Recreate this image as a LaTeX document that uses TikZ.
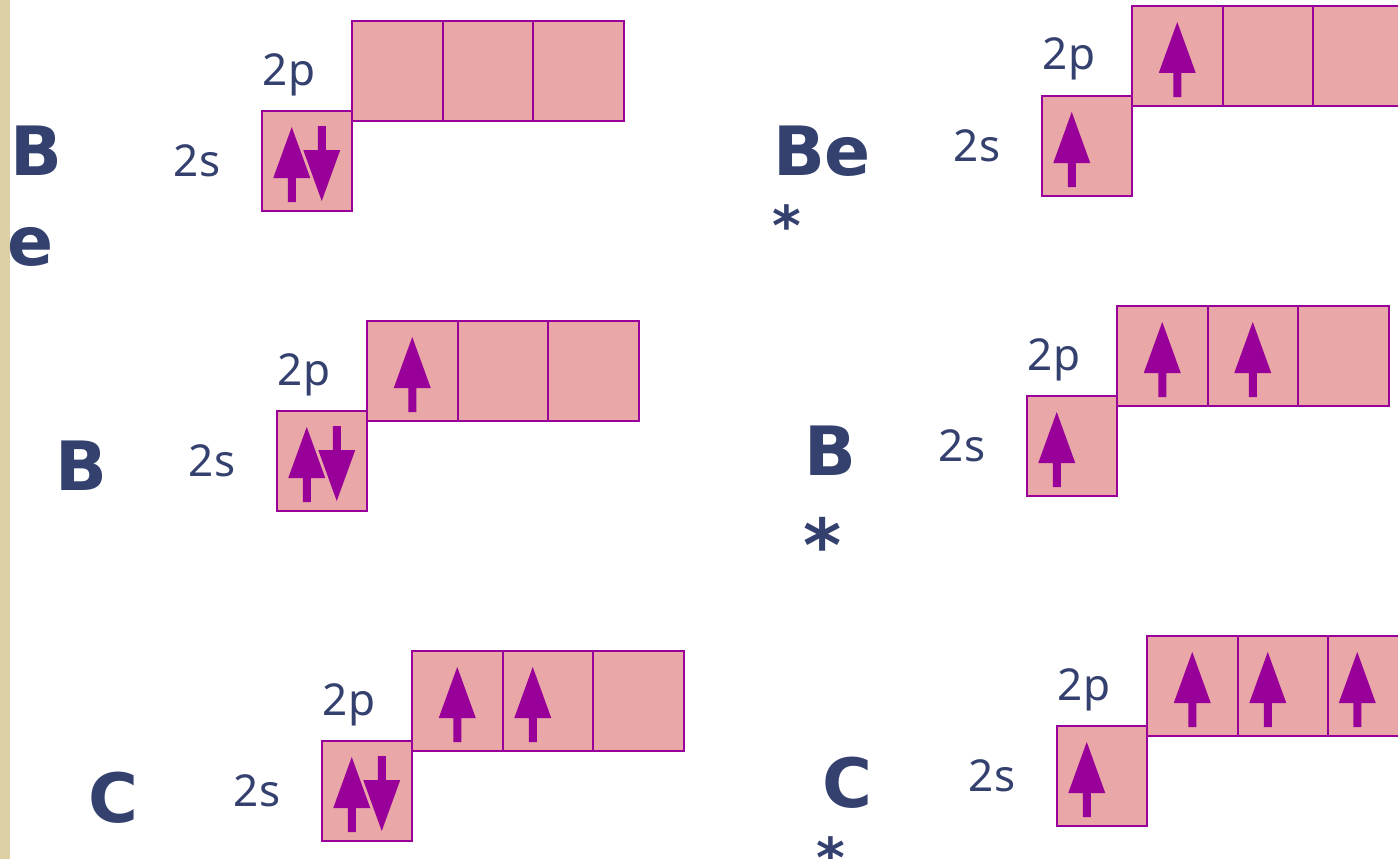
\documentclass[tikz,border=0pt]{standalone}
\usepackage{fontspec}
\setmainfont{DejaVu Sans}
\newfontfamily\lblfont{Noto Sans}
\usetikzlibrary{calc}
\definecolor{txtc}{HTML}{34416E}
\definecolor{boxfill}{HTML}{E9A8A7}
\definecolor{boxline}{HTML}{990099}
\definecolor{arrc}{HTML}{990099}
\definecolor{stripec}{HTML}{DDD0A4}
\tikzset{
  orb/.style={draw=boxline, fill=boxfill, line width=2pt, minimum width=90.5pt, minimum height=100pt, inner sep=0pt, outer sep=0pt},
  lbl/.style={text=txtc, font=\lblfont\fontsize{44}{48}\selectfont, inner sep=0pt, anchor=base},
  elem/.style={text=txtc, font=\bfseries\fontsize{68}{68}\selectfont, inner sep=0pt, anchor=base},
  star/.style={text=txtc, font=\bfseries\fontsize{#1}{#1}\selectfont, inner sep=0pt, anchor=base},
  upa/.pic={\fill[arrc] (0,0) -- (18.5,51) -- (4,51) -- (4,75) -- (-4,75) -- (-4,51) -- (-18.5,51) -- cycle;},
  dna/.pic={\fill[arrc] (-4,0) -- (4,0) -- (4,24) -- (18.5,24) -- (0,75) -- (-18.5,24) -- (-4,24) -- cycle;}
}
\newcommand\orbitals[3]{%
  \node[orb] (#1s) at (#2+45,#3+50) {};
  \node[orb] (#1pa) at (#2+135.5,#3-40) {};
  \node[orb] (#1pb) at (#2+226,#3-40) {};
  \node[orb] (#1pc) at (#2+316.5,#3-40) {};
  \node[lbl] (#1ls) at (#2-65,#3+65) {2s};
  \node[lbl] (#1lp) at (#2+27,#3-26) {2p};
}
\begin{document}
\begin{tikzpicture}[x=1pt,y=-1pt]
\useasboundingbox (0,0) rectangle (1398,859);
\fill[stripec] (0,0) rectangle (10,859);

% Be
\orbitals{be}{262}{111}
\pic at ($(bes.north west)+(30,16)$) {upa};
\pic at ($(bes.north west)+(60,15)$) {dna};
\node[elem] (beB) at (36,175) {B};
\node[elem] (beE) at (31,265) {e};

% Be*
\orbitals{bex}{1042}{96}
\pic at ($(bexs.north west)+(30,16)$) {upa};
\pic at ($(bexpa.north west)+(45,16)$) {upa};
\node[elem] (bexL) at (822,175) {Be};
\node[star=55] (bexS) at (787,245) {*};

% B
\orbitals{b}{277}{411}
\pic at ($(bs.north west)+(30,16)$) {upa};
\pic at ($(bs.north west)+(60,15)$) {dna};
\pic at ($(bpa.north west)+(45,16)$) {upa};
\node[elem] (bL) at (81,490) {B};

% B*
\orbitals{bx}{1027}{396}
\pic at ($(bxs.north west)+(30,16)$) {upa};
\pic at ($(bxpa.north west)+(45,16)$) {upa};
\pic at ($(bxpb.north west)+(45,16)$) {upa};
\node[elem] (bxL) at (830,475) {B};
\node[star=73] (bxS) at (823,571) {*};

% C
\orbitals{c}{322}{741}
\pic at ($(cs.north west)+(30,16)$) {upa};
\pic at ($(cs.north west)+(60,15)$) {dna};
\pic at ($(cpa.north west)+(45,16)$) {upa};
\pic at ($(cpb.north west)+(30,16)$) {upa};
\node[elem] (cL) at (113,822) {C};

% C*
\orbitals{cx}{1057}{726}
\pic at ($(cxs.north west)+(30,16)$) {upa};
\pic at ($(cxpa.north west)+(45,16)$) {upa};
\pic at ($(cxpb.north west)+(30,16)$) {upa};
\pic at ($(cxpc.north west)+(29,16)$) {upa};
\node[elem] (cxL) at (847,807) {C};
\node[star=55] (cxS) at (831,877) {*};
\end{tikzpicture}
\end{document}
